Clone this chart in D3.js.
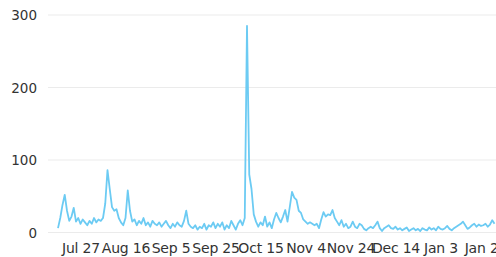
<!DOCTYPE html>
<html>
<head>
<meta charset="utf-8">
<script src="https://cdn.jsdelivr.net/npm/d3@7"></script>
<style>
  html, body { margin: 0; padding: 0; background: #fff; }
  text { font-family: "DejaVu Sans", Arial, sans-serif; }
</style>
</head>
<body>
<div class="chart"></div>
<script>
// daily counts starting Jul 17
let startDate = "2023-07-17";
let values = [
  6, 20, 38, 52, 30, 16, 22, 34, 15, 20,
  12, 18, 14, 10, 16, 12, 20, 14, 18, 16,
  20, 40, 86, 60, 35, 30, 32, 20, 14, 10,
  20, 58, 30, 15, 18, 10, 16, 12, 20, 10,
  14, 8, 16, 12, 10, 14, 8, 12, 16, 10,
  6, 12, 8, 14, 10, 8, 16, 30, 12, 8,
  6, 10, 4, 8, 6, 12, 4, 10, 8, 14,
  6, 12, 8, 14, 4, 10, 6, 16, 10, 4,
  12, 17, 10, 20, 285, 80, 60, 25, 15, 8,
  14, 10, 22, 8, 14, 6, 18, 27, 20, 14,
  22, 31, 15, 35, 56, 48, 45, 30, 27, 18,
  15, 12, 14, 12, 10, 12, 6, 18, 28, 22,
  25, 24, 31, 20, 15, 10, 17, 8, 12, 6,
  8, 15, 8, 6, 12, 10, 5, 3, 6, 8,
  6, 10, 15, 6, 2, 6, 8, 10, 6, 5,
  8, 4, 6, 3, 5, 7, 2, 4, 6, 3,
  5, 2, 6, 4, 3, 7, 4, 6, 3, 8,
  5, 4, 6, 9, 5, 3, 6, 8, 10, 12,
  15, 10, 5, 7, 10, 12, 8, 11, 9, 10,
  12, 8, 11, 17, 12
];
let xTicks = ["2023-07-27", "2023-08-16", "2023-09-05", "2023-09-25", "2023-10-15",
  "2023-11-04", "2023-11-24", "2023-12-14", "2024-01-03", "2024-01-23"];
let yTicks = [0, 100, 200, 300];

let width = 496;
let height = 257;
let margin = { top: 15, right: 0, bottom: 24.5, left: 48 };

let parse = d3.utcParse("%Y-%m-%d");
let start = parse(startDate);
let data = values.map((v, i) => ({ date: d3.utcDay.offset(start, i), value: v }));

let svg = d3.select("div.chart").append("svg")
  .attr("width", width)
  .attr("height", height);

let x = d3.scaleUtc()
  .domain([start, d3.utcDay.offset(start, 194)])
  .range([58, 494.5]);

let y = d3.scaleLinear()
  .domain([0, 300])
  .range([height - margin.bottom, margin.top]);

// grid
svg.append("g")
  .selectAll("line")
  .data(yTicks)
  .enter()
  .append("line")
  .attr("x1", margin.left)
  .attr("x2", width)
  .attr("y1", d => y(d))
  .attr("y2", d => y(d))
  .attr("stroke", "#ebebeb")
  .attr("stroke-width", 1);

// y labels
svg.append("g")
  .selectAll("text")
  .data(yTicks)
  .enter()
  .append("text")
  .attr("x", 37)
  .attr("y", d => y(d) + 5)
  .attr("text-anchor", "end")
  .attr("font-size", 13.5)
  .attr("fill", "#333")
  .text(d => d);

// x axis labels
let fmt = d3.utcFormat("%b %-d");
let xAxis = d3.axisBottom(x)
  .tickValues(xTicks.map(parse))
  .tickFormat(fmt)
  .tickSize(0)
  .tickPadding(0);

let gx = svg.append("g")
  .attr("transform", "translate(0," + (height - 14) + ")")
  .call(xAxis);
gx.select(".domain").remove();
gx.selectAll("text")
  .attr("font-size", 14)
  .attr("font-family", "DejaVu Sans, Arial, sans-serif")
  .attr("letter-spacing", -0.2)
  .attr("fill", "#333")
  .attr("dy", "0.71em");

// line
let line = d3.line()
  .x(d => x(d.date))
  .y(d => y(d.value));

svg.append("path")
  .datum(data)
  .attr("fill", "none")
  .attr("stroke", "#6ccbf3")
  .attr("stroke-width", 1.8)
  .attr("stroke-linejoin", "round")
  .attr("d", line);
</script>
</body>
</html>
